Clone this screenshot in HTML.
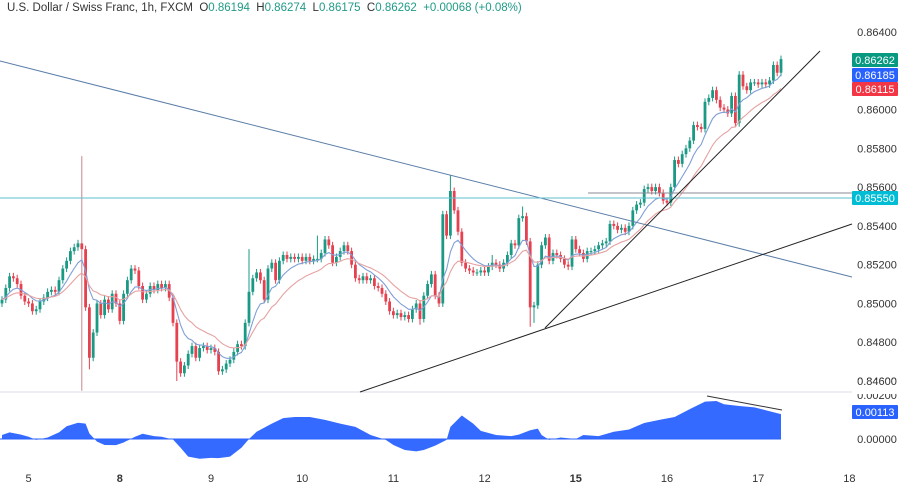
<!DOCTYPE html>
<html><head><meta charset="utf-8">
<style>
html,body{margin:0;padding:0;background:#fff;width:900px;height:487px;overflow:hidden;font-family:"Liberation Sans",sans-serif}
#hdr{position:absolute;left:7px;top:2px;font-size:11.5px;color:#333;white-space:nowrap}
#hdr .v{color:#1f9b87}
svg{position:absolute;left:0;top:0}
</style></head><body>
<div id="hdr">U.S. Dollar / Swiss Franc, 1h, FXCM&nbsp; O<span class="v">0.86194</span>&nbsp; H<span class="v">0.86274</span>&nbsp; L<span class="v">0.86175</span>&nbsp; C<span class="v">0.86262</span>&nbsp; <span class="v">+0.00068 (+0.08%)</span></div>
<svg id="c" width="900" height="487"></svg>
<script>
const closes=[0.8502,0.8508,0.8514,0.8513,0.8510,0.8504,0.8501,0.8500,0.8496,0.8497,
0.8501,0.8503,0.8506,0.8507,0.8506,0.8512,0.8518,0.8522,0.8527,0.8529,
0.8531,0.8528,0.8498,0.8472,0.8485,0.8500,0.8494,0.8502,0.8497,0.8505,
0.8500,0.8491,0.8505,0.8512,0.8518,0.8517,0.8509,0.8502,0.8505,0.8509,
0.8507,0.8510,0.8508,0.8510,0.8503,0.8490,0.8470,0.8464,0.8468,0.8474,
0.8478,0.8472,0.8477,0.8478,0.8476,0.8477,0.8475,0.8465,0.8466,0.8469,
0.8471,0.8475,0.8479,0.8478,0.8490,0.8506,0.8513,0.8516,0.8512,0.8502,
0.8518,0.8521,0.8512,0.8522,0.8525,0.8523,0.8524,0.8523,0.8524,0.8522,
0.8524,0.8522,0.8523,0.8523,0.8526,0.8533,0.8530,0.8521,0.8524,0.8527,
0.8530,0.8527,0.8520,0.8513,0.8512,0.8514,0.8512,0.8513,0.8509,0.8508,
0.8505,0.8501,0.8496,0.8494,0.8495,0.8493,0.8494,0.8492,0.8497,0.8500,
0.8492,0.8504,0.8510,0.8515,0.8504,0.8500,0.8546,0.8535,0.8558,0.8548,
0.8537,0.8521,0.8518,0.8517,0.8516,0.8516,0.8517,0.8516,0.8519,0.8521,
0.8520,0.8518,0.8521,0.8525,0.8531,0.8530,0.8544,0.8545,0.8532,0.8498,
0.8499,0.8520,0.8530,0.8534,0.8522,0.8526,0.8525,0.8523,0.8520,0.8519,
0.8533,0.8528,0.8526,0.8523,0.8527,0.8527,0.8528,0.8530,0.8531,0.8532,
0.8541,0.8540,0.8538,0.8539,0.8537,0.8540,0.8548,0.8551,0.8552,0.8559,
0.8560,0.8558,0.8560,0.8557,0.8553,0.8552,0.8560,0.8574,0.8572,0.8577,
0.8580,0.8584,0.8592,0.8591,0.8590,0.8604,0.8606,0.8610,0.8605,0.8601,
0.8600,0.8598,0.8607,0.8593,0.8618,0.8612,0.8610,0.8614,0.8614,0.8613,
0.8614,0.8613,0.8615,0.8623,0.8619,0.8626];
const firstOpen=0.8500;
const wickHighIdx=[21,118,137,83,65,129];
const wickHighVal=[0.8576,0.8566,0.8550,0.8535,0.8528,0.8525];
const wickLowIdx=[21,139,140,46,23,110];
const wickLowVal=[0.8455,0.8488,0.8490,0.8460,0.8466,0.8489];
const oscIdx=[0,2,5,7,9,12,15,17,20,22,23,25,27,30,32,35,37,40,42,45,47,49,52,55,57,60,63,65,67,71,74,77,81,85,89,93,97,101,103,106,109,111,114,117,118,121,124,126,130,134,136,139,141,142,144,147,151,153,157,161,165,169,173,177,181,185,188,190,194,198,202,205];
const oscVal=[0.00018,0.0003,0.0002,0.0001,-0.00004,0.00007,0.0003,0.00058,0.00074,0.0007,0.00025,-0.00012,-0.00027,-0.00028,-0.00016,0.0001,0.00024,0.00013,0.0001,-0.00002,-0.0004,-0.0008,-0.0009,-0.00086,-0.00087,-0.0008,-0.0004,0,0.00033,0.0007,0.00095,0.001,0.001,0.00087,0.0007,0.00055,0.00018,-0.00004,-0.00027,-0.0005,-0.00056,-0.0005,-0.0003,-0.00004,0.00055,0.00107,0.0007,0.00037,0.00018,0.00013,0.0002,0.0004,0.00047,0.00018,-0.00004,0.00007,0,0.00018,0.00013,0.00033,0.00043,0.00073,0.00087,0.001,0.00136,0.0017,0.00173,0.00158,0.0015,0.00144,0.00126,0.00113];
const priceTicks=["0.86400","0.86000","0.85800","0.85600","0.85400","0.85200","0.85000","0.84800","0.84600"];
const dayLabels=["5","8","9","10","11","12","15","16","17","18"];
const dayIdx=[7,31,55,79,103,127,151,175,199,223];
const dayBold=[false,true,false,false,false,false,true,false,false,false];

const svg=document.getElementById('c');const NS='http://www.w3.org/2000/svg';
const yP=p=>32+(0.864-p)*19390;
const xI=i=>2+i*3.8;
const yO=v=>439-v*22000;
function el(t,a,parent){const e=document.createElementNS(NS,t);for(const k in a)e.setAttribute(k,a[k]);(parent||svg).appendChild(e);return e;}

let sep=el('line',{x1:0,y1:392,x2:852,y2:392,stroke:'#d9dce3','stroke-width':1});



priceTicks.forEach(t=>{
 const e=el('text',{x:877,y:yP(parseFloat(t))+4,'font-size':11,fill:'#333','text-anchor':'middle','font-family':'Liberation Sans, sans-serif'});
 e.textContent=t;
 
 
});

const g=el('g',{});


closes.forEach((c,i)=>{
 const o=i===0?firstOpen:closes[i-1];
 let hi=Math.max(o,c)+0.00018, lo=Math.min(o,c)-0.00018;
 const hk=wickHighIdx.indexOf(i); if(hk>=0) hi=wickHighVal[hk];
 const lk=wickLowIdx.indexOf(i); if(lk>=0) lo=wickLowVal[lk];
 const col=c>=o?'#1a9a84':'#e5414f';
 const x=xI(i);
 const w=el('line',{x1:x,y1:yP(hi),x2:x,y2:yP(lo),stroke:i===21?'#c9868a':col,'stroke-width':1},g);
 
 
 const top=yP(Math.max(o,c)),h=Math.max(1,Math.abs(yP(o)-yP(c)));
 const b=el('rect',{x:x-1.4,y:top,width:2.8,height:h,fill:col},g);
 
 
});

function ema(n){const k=2/(n+1);let e=closes[0];return closes.map(c=>(e=c*k+e*(1-k)));}
[[8,'#7f9fd6'],[17,'#e6a2a2']].forEach(([n,col])=>{
 const m=ema(n);
 const p=el('polyline',{points:m.map((v,i)=>xI(i)+','+yP(v)).join(' '),fill:'none',stroke:col,'stroke-width':1.1});
 
 
});

function ln(name,x1,y1,x2,y2,col,w){const e=el('line',{x1,y1,x2,y2,stroke:col,'stroke-width':w});
 
 }
ln('downtrend-line',0,61,852,277,'#5b7ea8',1);
ln('resistance-line',0,198,852,198,'#5fbfcc',1);
ln('breakout-level-line',588,193,852,193,'#8a8a95',1);
ln('steep-uptrend-line',545,328,820,51,'#222',1);
ln('long-uptrend-line',360,392,852,224,'#222',1);

function tag(name,y,txt,bg){
 const r=el('rect',{x:852,y:y-7,width:46,height:14,fill:bg,rx:1});
 
 
 const t=el('text',{x:875,y:y+4,'font-size':11,fill:'#fff','text-anchor':'middle','font-family':'Liberation Sans, sans-serif'});t.textContent=txt;
 
 
}
tag('last-price-tag',60,'0.86262','#089981');
tag('fast-ma-tag',75,'0.86185','#2962ff');
tag('slow-ma-tag',89,'0.86115','#f23645');
tag('resistance-tag',198,'0.85550','#00bcd4');

const pts=oscIdx.map((ix,k)=>xI(ix)+','+yO(oscVal[k]));
const area=el('polygon',{points:xI(oscIdx[0])+','+yO(0)+' '+pts.join(' ')+' '+xI(oscIdx[oscIdx.length-1])+','+yO(0),fill:'#2962ff','fill-opacity':0.95});


const zl=el('line',{x1:0,y1:yO(0),x2:xI(205),y2:yO(0),stroke:'#2962ff','stroke-width':1});


ln('divergence-line',707,396,782,410,'#333',1);
[['0.00200',0.002],['0.00000',0]].forEach(([t,v])=>{
 const e=el('text',{x:877,y:yO(v)+4,'font-size':11,fill:'#333','text-anchor':'middle','font-family':'Liberation Sans, sans-serif'});e.textContent=t;
 
 
});
const mk=el('rect',{x:852,y:380,width:48,height:14,fill:'#fff'});


const l846=el('text',{x:877,y:yP(0.846)+4,'font-size':11,fill:'#333','text-anchor':'middle','font-family':'Liberation Sans, sans-serif'});l846.textContent='0.84600';


tag('oscillator-value-tag',412,'0.00113','#2962ff');

dayLabels.forEach((d,k)=>{
 const e=el('text',{x:xI(dayIdx[k]),y:482,'font-size':11,fill:'#333','text-anchor':'middle','font-weight':dayBold[k]?'bold':'normal','font-family':'Liberation Sans, sans-serif'});
 e.textContent=d;
 
 
});
</script>
</body></html>
